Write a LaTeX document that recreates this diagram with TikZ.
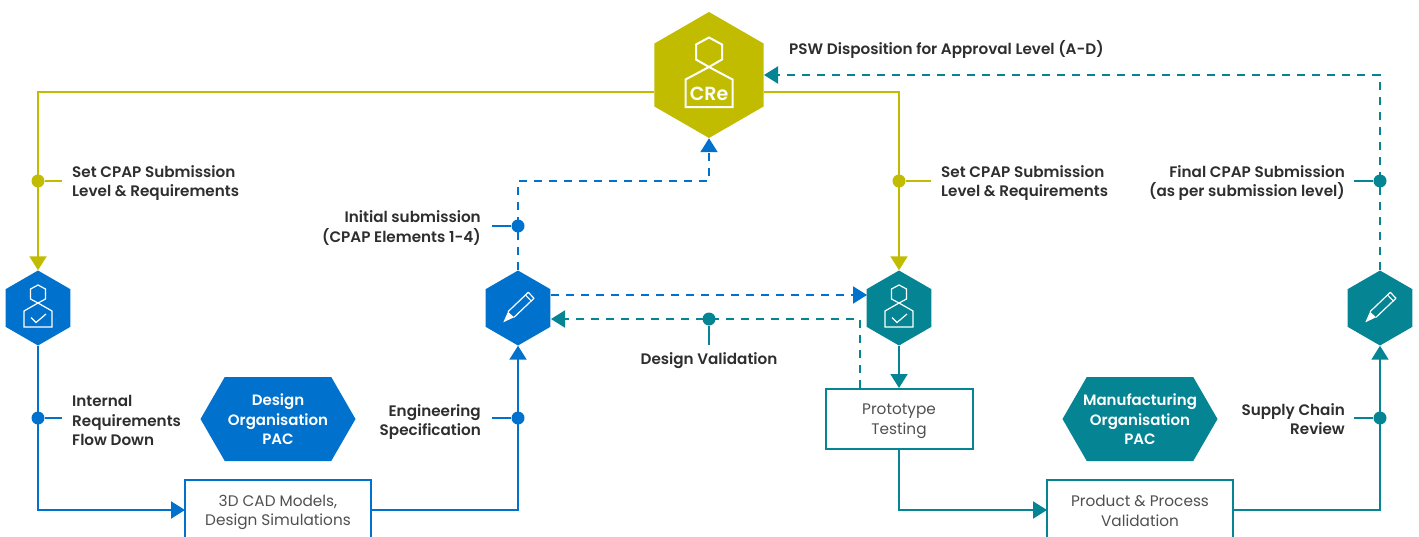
\documentclass[tikz,border=0pt]{standalone}
\usepackage{fontspec}
\setmainfont{Poppins}[BoldFont={Poppins SemiBold}]
\usetikzlibrary{arrows.meta,shapes.geometric,shapes.symbols}
\definecolor{cblue}{HTML}{0072CE}
\definecolor{cteal}{HTML}{058493}
\definecolor{colive}{HTML}{C1BC00}
\definecolor{ctext}{HTML}{2E2E2E}
\definecolor{cgrey}{HTML}{505050}
\tikzset{
  x=1pt,y=-1pt,
  hexa/.style={regular polygon,regular polygon sides=6,shape border rotate=30,minimum size=#1,inner sep=0pt,fill=hexcol,draw=none},
  pachex/.style={signal,signal to=east and west,signal pointer angle=120,minimum width=155pt,minimum height=84pt,inner sep=0pt},
  pactxt/.style={inner sep=0pt,text=white,align=center,font=\fontsize{15}{19.5}\selectfont\bfseries},
  bold label/.style={inner sep=0pt,text=ctext,font=\fontsize{15.2}{19.3}\selectfont\bfseries},
  lleft/.style={bold label,anchor=west,align=left},
  lright/.style={bold label,anchor=east,align=right},
  boxn/.style={draw=#1,line width=2pt,fill=white,inner sep=0pt},
  boxtxt/.style={inner sep=0pt,text=cgrey,align=center,font=\fontsize{15.3}{19.5}\selectfont},
  conn/.style={draw=#1,line width=2pt},
  tip/.style={-{Triangle[width=17pt,length=14pt]}},
  dsh/.style={dash pattern=on 8pt off 7pt},
  dotn/.style={circle,fill=#1,minimum size=13pt,inner sep=0pt,draw=none},
  pics/person/.style={code={
    \draw[white,line width=1.2pt,line join=miter] (-7.5,-19) -- (0,-23) -- (7.5,-19) -- (7.5,-9) -- (0,-5) -- (-7.5,-9) -- cycle;
    \draw[white,line width=1.2pt,line join=miter] (0,-5) -- (14,3) -- (14,19) -- (-14,19) -- (-14,3) -- cycle;
    \draw[white,line width=1.2pt] (-7,9.5) -- (-2,14.5) -- (8,6);
  }},
  pics/pen/.style={code={
    \draw[white,line width=1.2pt,line join=round] (-4,9.3) -- (16,-9.7) -- (10.3,-15.7) -- (-10,3.7);
    \draw[white,line width=1pt] (7.5,-13) -- (13.3,-7);
    \fill[white] (-14.7,14.3) -- (-10,3.7) -- (-4,9.3) -- cycle;
  }},
}
\begin{document}
\begin{tikzpicture}
\useasboundingbox (0,0) rectangle (1419,536);
\clip (0,0) rectangle (1419,536);
% hexagons
\colorlet{hexcol}{colive}
\node[hexa=126pt] (cre) at (709,75) {};
\colorlet{hexcol}{cblue}
\node[hexa=75pt] (h1) at (38,308) {};
\node[hexa=75pt] (h2) at (518,308) {};
\colorlet{hexcol}{cteal}
\node[hexa=75pt] (h3) at (899,308) {};
\node[hexa=75pt] (h4) at (1380,308) {};
% icons
\draw[white,line width=2pt,line join=miter] (696,44.5) -- (709,37.5) -- (722,44.5) -- (722,59.5) -- (709,67) -- (696,59.5) -- cycle;
\draw[white,line width=2pt,line join=miter] (709,67) -- (732.5,79.5) -- (732.5,107) -- (685.5,107) -- (685.5,79.5) -- cycle;
\node[inner sep=0pt,text=white,font=\fontsize{19}{20}\selectfont\bfseries] (cretxt) at (709,93.5) {CRe};
\pic at (h1) {person};
\pic at (h3) {person};
\pic at (h2) {pen};
\pic at (h4) {pen};
% PAC
\node[pachex,fill=cblue] (pac1) at (278,419) {};
\node[pachex,fill=cteal] (pac2) at (1140,419) {};
\node[pactxt] (pac1t) at (278,419.5) {Design\\Organisation\\PAC};
\node[pactxt] (pac2t) at (1140,419.5) {Manufacturing\\Organisation\\PAC};
% boxes
\node[boxn=cblue,minimum width=186pt,minimum height=62pt] (b1) at (278,511) {};
\node[boxn=cteal,minimum width=147pt,minimum height=60pt] (b2) at (899,419) {};
\node[boxn=cteal,minimum width=186pt,minimum height=62pt] (b3) at (1140,511) {};
\node[boxtxt] (b2t) at (899,421) {Prototype\\Testing};
\node[boxtxt] (b1t) at (278,512.5) {3D CAD Models,\\Design Simulations};
\node[boxtxt] (b3t) at (1140,511) {Product \& Process\\Validation};
% route coordinates
\coordinate (creL) at (654,92);
\coordinate (creR) at (764,92);
\coordinate (c1) at (38,92);
\coordinate (c2) at (899,92);
\coordinate (c3) at (38,510);
\coordinate (b1W) at (185,510);
\coordinate (b1E) at (371,510);
\coordinate (c4) at (518,510);
\coordinate (c5) at (518,181);
\coordinate (c6) at (709,181);
\coordinate (h2E) at (551,295);
\coordinate (h3W) at (867,295);
\coordinate (b2T) at (860,388);
\coordinate (c7) at (860,319);
\coordinate (h2R) at (551,319);
\coordinate (c8) at (899,510);
\coordinate (b3W) at (1047,510);
\coordinate (b3E) at (1233,510);
\coordinate (c9) at (1380,510);
\coordinate (c10) at (1380,75);
\coordinate (creA) at (764,75);
% dots
\node[dotn=colive] (d1) at (38,181) {};
\node[dotn=colive] (d2) at (899,181) {};
\node[dotn=cblue] (d3) at (518,226) {};
\node[dotn=cblue] (d4) at (38,418) {};
\node[dotn=cblue] (d5) at (518,418) {};
\node[dotn=cteal] (d6) at (709,319) {};
\node[dotn=cteal] (d7) at (1380,181) {};
\node[dotn=cteal] (d8) at (1380,418) {};
\coordinate (t1) at (62,181);
\coordinate (t2) at (931,181);
\coordinate (t3) at (492,226);
\coordinate (t4) at (62,418);
\coordinate (t5) at (492,418);
\coordinate (t6) at (709,345);
\coordinate (t7) at (1354,181);
\coordinate (t8) at (1354,418);
% connectors
\draw[conn=colive,tip] (creL) -- (c1) -- (h1.north);
\draw[conn=colive,tip] (creR) -- (c2) -- (h3.north);
\draw[conn=cblue,tip] (h1.south) -- (c3) -- (b1W);
\draw[conn=cblue,tip] (b1E) -- (c4) -- (h2.south);
\draw[conn=cblue,dsh,tip] (h2.north) -- (c5) -- (c6) -- (cre.south);
\draw[conn=cblue,dsh,tip] (h2E) -- (h3W);
\draw[conn=cteal,dsh,tip] (b2T) -- (c7) -- (h2R);
\draw[conn=cteal,tip] (h3.south) -- (b2.north);
\draw[conn=cteal,tip] (b2.south) -- (c8) -- (b3W);
\draw[conn=cteal,tip] (b3E) -- (c9) -- (h4.south);
\draw[conn=cteal,dsh,tip] (h4.north) -- (c10) -- (creA);
\draw[conn=colive] (d1) -- (t1);
\draw[conn=colive] (d2) -- (t2);
\draw[conn=cblue] (d3) -- (t3);
\draw[conn=cblue] (d4) -- (t4);
\draw[conn=cblue] (d5) -- (t5);
\draw[conn=cteal] (d6) -- (t6);
\draw[conn=cteal] (d7) -- (t7);
\draw[conn=cteal] (d8) -- (t8);
% labels
\node[lleft] (l0) at (789,49) {PSW Disposition for Approval Level (A-D)};
\node[lleft] (l1) at (72,183) {Set CPAP Submission\\Level \& Requirements};
\node[lleft] (l2) at (941,183) {Set CPAP Submission\\Level \& Requirements};
\node[lright] (l3) at (481,228) {Initial submission\\(CPAP Elements 1-4)};
\node[lright] (l4) at (1345,183) {Final CPAP Submission\\(as per submission level)};
\node[lleft] (l5) at (72,420.5) {Internal\\Requirements\\Flow Down};
\node[lright] (l6) at (481,422) {Engineering\\Specification};
\node[lright] (l7) at (1345,419) {Supply Chain\\Review};
\node[bold label,anchor=center] (l8) at (709,360.5) {Design Validation};
\end{tikzpicture}
\end{document}
